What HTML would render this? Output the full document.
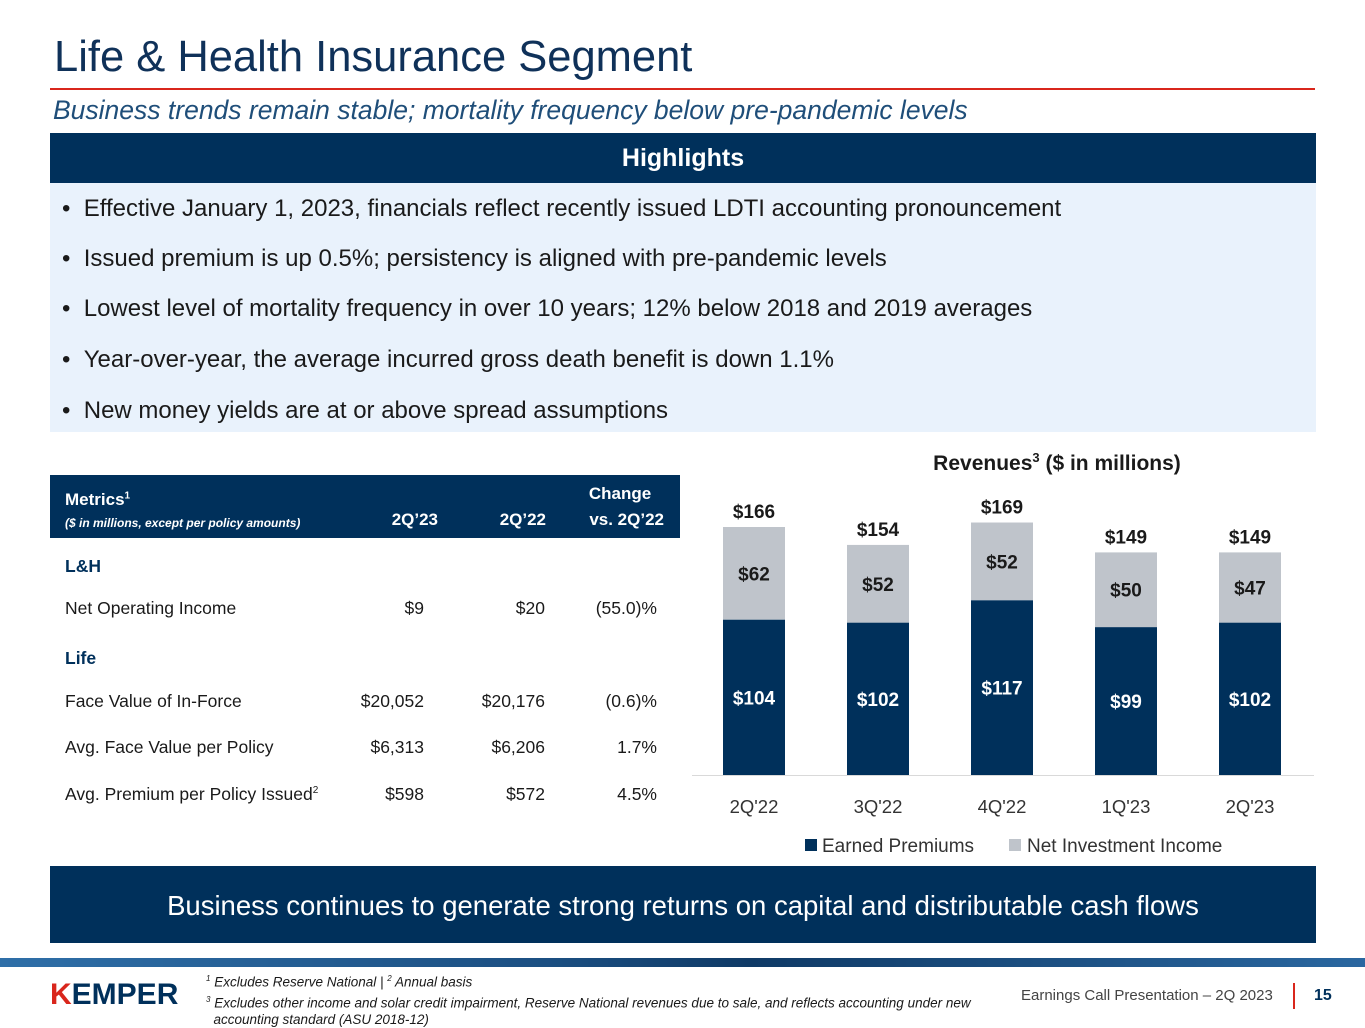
<!DOCTYPE html>
<html><head><meta charset="utf-8"><style>
*{margin:0;padding:0;box-sizing:border-box}
body{width:1365px;height:1024px;background:#fff;position:relative;overflow:hidden;font-family:"Liberation Sans",sans-serif;color:#1a1a1a}
.a{position:absolute;white-space:nowrap}
.bul{position:absolute;left:12px;font-size:24px;color:#1a1a1a}
.cell{position:absolute;font-size:17.5px;color:#1a1a1a}
.r{text-align:right}
</style></head><body>
<div class="a" style="left:54px;top:33px;font-size:43.5px;color:#0f3159">Life &amp; Health Insurance Segment</div>
<div class="a" style="left:50px;top:88px;width:1265px;height:2px;background:#d9261c"></div>
<div class="a" style="left:53px;top:95px;font-size:26.5px;font-style:italic;color:#1f4e79">Business trends remain stable; mortality frequency below pre-pandemic levels</div>
<div class="a" style="left:50px;top:133px;width:1266px;height:50px;background:#00305b;color:#fff;font-size:25px;font-weight:bold;text-align:center;line-height:50px">Highlights</div>
<div class="a" style="left:50px;top:183px;width:1266px;height:249px;background:#e9f2fc">
<div class="bul" style="top:12px">•&nbsp;&nbsp;Effective January 1, 2023, financials reflect recently issued LDTI accounting pronouncement</div>
<div class="bul" style="top:62px">•&nbsp;&nbsp;Issued premium is up 0.5%; persistency is aligned with pre-pandemic levels</div>
<div class="bul" style="top:112px">•&nbsp;&nbsp;Lowest level of mortality frequency in over 10 years; 12% below 2018 and 2019 averages</div>
<div class="bul" style="top:163px">•&nbsp;&nbsp;Year-over-year, the average incurred gross death benefit is down 1.1%</div>
<div class="bul" style="top:214px">•&nbsp;&nbsp;New money yields are at or above spread assumptions</div>
</div>

<div class="a" style="left:50px;top:475px;width:630px;height:340px">
<div class="a" style="left:0;top:0;width:630px;height:63px;background:#00305b;color:#fff">
<div class="a" style="left:15px;top:15px;font-size:17px;font-weight:bold">Metrics<sup style="font-size:10px">1</sup></div>
<div class="a" style="left:15px;top:41px;font-size:12px;font-weight:bold;font-style:italic">($ in millions, except per policy amounts)</div>
<div class="a r" style="left:310px;width:78px;top:35px;font-size:17px;font-weight:bold">2Q’23</div>
<div class="a r" style="left:418px;width:78px;top:35px;font-size:17px;font-weight:bold">2Q’22</div>
<div class="a" style="left:520px;width:100px;top:9px;font-size:17px;font-weight:bold;text-align:center">Change</div>
<div class="a r" style="left:510px;width:104px;top:35px;font-size:17px;font-weight:bold">vs. 2Q’22</div>
</div>
<div class="cell" style="left:15px;top:81px;font-weight:bold;color:#00305b">L&amp;H</div>
<div class="cell" style="left:15px;top:123px">Net Operating Income</div>
<div class="cell r" style="left:300px;width:74px;top:123px">$9</div>
<div class="cell r" style="left:400px;width:95px;top:123px">$20</div>
<div class="cell r" style="left:500px;width:107px;top:123px">(55.0)%</div>
<div class="cell" style="left:15px;top:173px;font-weight:bold;color:#00305b">Life</div>
<div class="cell" style="left:15px;top:216px">Face Value of In-Force</div>
<div class="cell r" style="left:300px;width:74px;top:216px">$20,052</div>
<div class="cell r" style="left:400px;width:95px;top:216px">$20,176</div>
<div class="cell r" style="left:500px;width:107px;top:216px">(0.6)%</div>
<div class="cell" style="left:15px;top:262px">Avg. Face Value per Policy</div>
<div class="cell r" style="left:300px;width:74px;top:262px">$6,313</div>
<div class="cell r" style="left:400px;width:95px;top:262px">$6,206</div>
<div class="cell r" style="left:500px;width:107px;top:262px">1.7%</div>
<div class="cell" style="left:15px;top:309px">Avg. Premium per Policy Issued<sup style="font-size:10px">2</sup></div>
<div class="cell r" style="left:300px;width:74px;top:309px">$598</div>
<div class="cell r" style="left:400px;width:95px;top:309px">$572</div>
<div class="cell r" style="left:500px;width:107px;top:309px">4.5%</div>
</div>

<svg class="a" style="left:0;top:0" width="1365" height="1024" id="chart"></svg>

<div class="a" style="left:50px;top:866px;width:1266px;height:77px;background:#00305b;color:#fff;font-size:27.5px;text-align:center;line-height:80px">Business continues to generate strong returns on capital and distributable cash flows</div>
<div class="a" style="left:0;top:958px;width:1365px;height:9px;background:linear-gradient(90deg,#2f6fa8,#1b4f82 40%,#0f3a66 55%,#2a67a0)"></div>
<div class="a" style="left:50px;top:978px;font-size:30px;font-weight:bold;color:#00305b"><span style="color:#d9261c">K</span>EMPER</div>
<div class="a" style="left:206px;top:970px;font-size:13.5px;font-style:italic;line-height:17px;color:#1a1a1a"><sup style="font-size:8px">1</sup> Excludes Reserve National | <sup style="font-size:8px">2</sup> Annual basis<br><sup style="font-size:8px">3</sup> Excludes other income and solar credit impairment, Reserve National revenues due to sale, and reflects accounting under new<br>&nbsp;&nbsp;accounting standard (ASU 2018-12)</div>
<div class="a" style="left:1021px;top:987px;font-size:15px;color:#444">Earnings Call Presentation – 2Q 2023</div>
<div class="a" style="left:1293px;top:983px;width:2px;height:26px;background:#d9261c"></div>
<div class="a" style="left:1314px;top:987px;font-size:16px;font-weight:bold;color:#00305b">15</div>

<script>
const categories=["2Q'22","3Q'22","4Q'22","1Q'23","2Q'23"];
const earnedPremiums=[104,102,117,99,102];
const netInvestmentIncome=[62,52,52,50,47];
const totals=[166,154,169,149,149];
const svg=document.getElementById('chart');
const NS='http://www.w3.org/2000/svg';
const base=775,scale=1.494,x0=754,step=124,bw=62;
const y=v=>base-v*scale, xc=i=>x0+i*step;
function el(t,a,txt){const e=document.createElementNS(NS,t);for(const k in a)e.setAttribute(k,a[k]);if(txt!==undefined)e.textContent=txt;svg.appendChild(e);return e;}
const title=el('text',{x:1057,y:470,'text-anchor':'middle','font-size':21,'font-weight':'bold',fill:'#1a1a1a','font-family':'Liberation Sans'});


title.innerHTML='Revenues<tspan font-size="13" dy="-8">3</tspan><tspan dy="8"> ($ in millions)</tspan>';
const ax=el('line',{x1:692,x2:1314,y1:base+0.5,y2:base+0.5,stroke:'#d9d9d9','stroke-width':1});


categories.forEach((c,i)=>{
  const e=earnedPremiums[i],n=netInvestmentIncome[i],cx=xc(i);
  const b1=el('rect',{x:cx-bw/2,y:y(e),width:bw,height:e*scale,fill:'#00305b'});
  
  
  const b2=el('rect',{x:cx-bw/2,y:y(e+n),width:bw,height:n*scale,fill:'#bfc4cb'});
  
  
  const f='Liberation Sans';
  const l1=el('text',{x:cx,y:y(e/2)+7,'text-anchor':'middle','font-size':19,'font-weight':'bold',fill:'#fff','font-family':f},'$'+e);
  
  
  const l2=el('text',{x:cx,y:y(e+n/2)+7,'text-anchor':'middle','font-size':19,'font-weight':'bold',fill:'#1a1a1a','font-family':f},'$'+n);
  
  
  const l3=el('text',{x:cx,y:y(totals[i])-9,'text-anchor':'middle','font-size':19,'font-weight':'bold',fill:'#1a1a1a','font-family':f},'$'+totals[i]);
  
  
  const t=el('text',{x:cx,y:813,'text-anchor':'middle','font-size':18.5,fill:'#333','font-family':f},c);
  
  
});
const lg1=el('rect',{x:805,y:839,width:12,height:12,fill:'#00305b'});


el('text',{x:822,y:852,'font-size':19,fill:'#333','font-family':'Liberation Sans'},'Earned Premiums');
const lg2=el('rect',{x:1009,y:839,width:12,height:12,fill:'#bfc4cb'});


el('text',{x:1027,y:852,'font-size':19,fill:'#333','font-family':'Liberation Sans'},'Net Investment Income');
</script>
</body></html>
